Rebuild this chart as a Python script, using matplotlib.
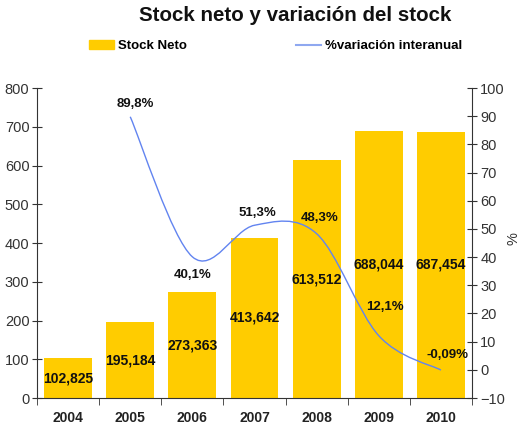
import matplotlib.pyplot as plt
from matplotlib.path import Path
from matplotlib.patches import PathPatch, Patch
from matplotlib.lines import Line2D

plt.rcParams['font.family'] = ['Liberation Sans', 'DejaVu Sans']

# data
years = ['2004', '2005', '2006', '2007', '2008', '2009', '2010']
stock = [102.825, 195.184, 273.363, 413.642, 613.512, 688.044, 687.454]
stock_labels = ['102,825', '195,184', '273,363', '413,642', '613,512', '688,044', '687,454']
var_years = [1, 2, 3, 4, 5, 6]  # index into years (2005..2010)
variacion = [89.8, 40.1, 51.3, 48.3, 12.1, -0.09]
var_labels = ['89,8%', '40,1%', '51,3%', '48,3%', '12,1%', '-0,09%']

bar_color = '#FFCC00'
line_color = '#6284F0'

fig = plt.figure(figsize=(5.2, 4.26), dpi=100)
ax = fig.add_axes([0.0712, 0.0657, 0.8365, 0.7277])
ax2 = ax.twinx()

x = list(range(len(years)))
ax.bar(x, stock, width=0.77, color=bar_color, zorder=2)
for xi, v, lab in zip(x, stock, stock_labels):
    ax.text(xi, v / 2, lab, ha='center', va='center', fontsize=10, fontweight='bold', color='#111111', zorder=5)

ax.set_xlim(-0.5, 6.5)
ax.set_ylim(0, 800)
ax.set_yticks(range(0, 801, 100))
ax.set_xticks(x)
ax.set_xticklabels(years, fontweight='bold', fontsize=10, color='#222222')
ax.set_xticks([i - 0.5 for i in range(8)], minor=True)
ax.tick_params(axis='x', which='major', length=0, pad=9)
ax.tick_params(axis='x', which='minor', length=5, direction='out', color='#333333')
ax.tick_params(axis='y', direction='inout', length=7, pad=2, labelsize=10.5, labelcolor='#333333', color='#333333')
ax.spines['top'].set_visible(False)
ax.spines['right'].set_visible(False)
for s in ['left', 'bottom']:
    ax.spines[s].set_color('#333333')

# smoothed line (cardinal spline drawn as bezier path)
pts = list(zip(var_years, variacion))
verts = [pts[0]]
codes = [Path.MOVETO]
n = len(pts)
for i in range(n - 1):
    p0 = pts[i - 1] if i > 0 else pts[i]
    p1 = pts[i]
    p2 = pts[i + 1]
    p3 = pts[i + 2] if i + 2 < n else pts[i + 1]
    c1 = (p1[0] + (p2[0] - p0[0]) / 6, p1[1] + (p2[1] - p0[1]) / 6)
    c2 = (p2[0] - (p3[0] - p1[0]) / 6, p2[1] - (p3[1] - p1[1]) / 6)
    verts += [c1, c2, p2]
    codes += [Path.CURVE4] * 3
ax2.add_patch(PathPatch(Path(verts, codes), fill=False, edgecolor=line_color, lw=1.0, zorder=3))

# label offsets in points
label_off = [(3.6, 9.5), (0, -13), (2, 8.6), (2, 11), (4.3, 21), (5, 11)]
for xi, v, lab, off in zip(var_years, variacion, var_labels, label_off):
    ax2.annotate(lab, (xi, v), xytext=off, textcoords='offset points', ha='center', va='center',
                 fontsize=9.5, fontweight='bold', color='#111111', zorder=6)

ax2.set_ylim(-10, 100)
ax2.set_yticks(range(-10, 101, 10))
ax2.tick_params(axis='y', direction='inout', length=7, pad=2.5, labelsize=10.5, labelcolor='#333333', color='#333333')
ax2.spines['top'].set_visible(False)
ax2.spines['left'].set_visible(False)
ax2.spines['bottom'].set_visible(False)
ax2.spines['right'].set_color('#333333')
fig.text(0.987, 0.441, '%', rotation=90, ha='center', va='center', fontsize=10.5, color='#333333')

fig.text(0.567, 0.963, 'Stock neto y variación del stock', ha='center', va='center',
         fontsize=14.8, fontweight='bold', color='#111111')

handles = [Patch(color=bar_color), Line2D([], [], color='#8FA8F0', lw=1.5)]
fig.legend(handles, ['Stock Neto', '%variación interanual'], loc='center',
           bbox_to_anchor=(0.53, 0.892), ncol=2, frameon=False, columnspacing=8.3,
           handlelength=1.9, handletextpad=0.25, prop={'weight': 'bold', 'size': 9.5})

fig.savefig('out.png', dpi=100)
